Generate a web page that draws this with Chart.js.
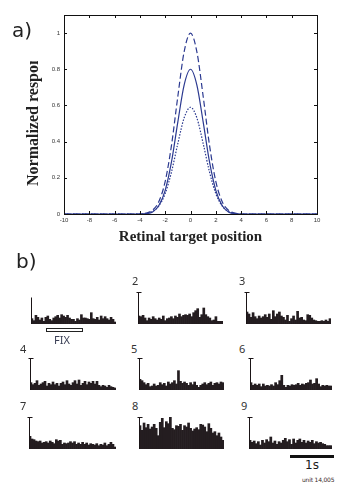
<!DOCTYPE html>
<html>
<head>
<meta charset="utf-8">
<script src="https://cdn.jsdelivr.net/npm/chart.js@4.4.1/dist/chart.umd.min.js"></script>
<style>
  body { margin: 0; background: #fff; width: 350px; height: 490px; position: relative; overflow: hidden; }
  .abs { position: absolute; white-space: nowrap; }
  .panel { font: 20px "DejaVu Sans", sans-serif; line-height: 20px; color: #222; }
  .num { font: 11px "Noto Sans", sans-serif; line-height: 11px; color: #333; }
  canvas { position: absolute; }
</style>
</head>
<body>

<canvas id="curves" width="350" height="250" style="left:0;top:0"></canvas>

<div class="abs panel" style="left:12px;top:20px">a)</div>
<div class="abs panel" style="left:16px;top:251px">b)</div>

<div class="abs num" style="left:132px;top:275px">2</div>
<div class="abs num" style="left:239px;top:275px">3</div>
<div class="abs num" style="left:20px;top:343px">4</div>
<div class="abs num" style="left:131px;top:343px">5</div>
<div class="abs num" style="left:239px;top:343px">6</div>
<div class="abs num" style="left:20px;top:400px">7</div>
<div class="abs num" style="left:132px;top:400px">8</div>
<div class="abs num" style="left:241px;top:400px">9</div>

<div class="abs" style="left:46px;top:328px;width:37px;height:4px;box-sizing:border-box;border:1px solid #222;background:#fff"></div>
<div class="abs num" style="left:54px;top:334px;color:#3a3f55">FIX</div>

<div class="abs" style="left:290px;top:455px;width:44px;height:2.5px;background:#111"></div>
<div class="abs" style="left:305px;top:459px;font:12px 'DejaVu Sans',sans-serif;line-height:12px;color:#1a1a1a">1s</div>
<div class="abs" style="left:302px;top:477px;font:6px 'DejaVu Sans',sans-serif;line-height:6px;letter-spacing:-0.2px;color:#3a2a2a">unit 14,005</div>

<canvas id="h1"></canvas><canvas id="h2"></canvas><canvas id="h3"></canvas>
<canvas id="h4"></canvas><canvas id="h5"></canvas><canvas id="h6"></canvas>
<canvas id="h7"></canvas><canvas id="h8"></canvas><canvas id="h9"></canvas>

<script>
// a) tuning curves: retinal target position vs normalized response
const targetPos = [-10, -4, -3.5, -3, -2.5, -2, -1.5, -1, -0.5, 0, 0.5, 1, 1.5, 2, 2.5, 3, 3.5, 4, 10];
const dashedResp = [0, 0, 0.005, 0.021, 0.069, 0.18, 0.381, 0.651, 0.898, 1.0, 0.898, 0.651, 0.381, 0.18, 0.069, 0.021, 0.005, 0, 0];
const solidResp  = [0, 0, 0.002, 0.011, 0.047, 0.131, 0.289, 0.509, 0.714, 0.8, 0.714, 0.509, 0.289, 0.131, 0.047, 0.011, 0.002, 0, 0];
const dottedResp = [0, 0, 0.003, 0.014, 0.045, 0.113, 0.233, 0.39, 0.532, 0.59, 0.532, 0.39, 0.233, 0.113, 0.045, 0.014, 0.003, 0, 0];

// b) PSTHs for the 9 target locations (rates, axis top = 96)
const psth1 = [16,10,26,20,12,18,8,20,24,14,10,18,22,26,18,28,24,20,26,18,14,14,8,16,12,28,18,18,16,14,34,16,14,20,12,24,16,22,16,12,20,14,6];
const psth2 = [24,22,26,18,10,18,14,22,16,12,18,14,24,10,16,18,22,16,24,20,30,22,26,28,26,30,22,34,40,46,20,28,48,28,22,18,10,12,22,8,8,8];
const psth3 = [36,30,20,34,22,16,24,18,22,28,20,30,14,40,22,30,36,24,20,12,26,8,16,24,12,38,18,20,12,10,28,26,18,12,10,8,8,10,8,12,8,16];
const psth4 = [22,16,20,28,14,18,22,26,12,20,16,24,16,20,12,20,24,16,28,18,14,22,28,18,30,14,20,26,16,24,20,26,18,26,14,10,14,12,8,14,10,8,6];
const psth5 = [32,28,22,16,20,10,12,18,12,14,22,16,20,12,24,18,22,28,18,58,26,20,24,20,14,22,16,24,14,8,14,18,22,16,20,24,14,20,22,18,24,22];
const psth6 = [22,14,18,14,18,10,18,12,14,12,16,12,22,16,28,44,14,8,14,12,16,14,16,20,14,18,16,20,22,30,18,20,34,18,10,14,12,14,12,12];
const psth7 = [38,30,28,24,22,24,18,20,22,18,24,20,16,28,24,26,14,18,16,18,22,18,22,14,18,14,20,14,18,12,16,14,12,16,10,14,12,18,10,14,20,14,6];
const psth8 = [70,56,78,64,74,60,66,74,62,40,80,92,64,82,76,96,62,58,70,68,74,56,70,66,78,62,54,60,64,58,74,72,66,52,76,62,48,52,40,48,36,26];
const psth9 = [26,20,24,16,22,12,26,18,28,22,36,18,24,14,22,18,26,32,22,28,14,30,18,26,30,20,26,18,24,20,26,16,22,18,20,16,14,10,10,10];
const scaleTop = [82, 96, 96, 96, 96, 96, 96, 96, 96];

const lineColor = '#2b3990';

function toPoints(ys) {
    return targetPos.map((x, i) => ({ x: x, y: ys[i] }));
}

// box and inward tick marks, matlab style
const boxTicks = {
    id: 'boxTicks',
    afterDraw(chart) {
        const { ctx, chartArea: a, scales } = chart;
        ctx.save();
        ctx.strokeStyle = '#111';
        ctx.lineWidth = 1;
        ctx.beginPath();
        ctx.moveTo(a.left, a.top + 0.5);
        ctx.lineTo(a.right + 0.5, a.top + 0.5);
        ctx.lineTo(a.right + 0.5, a.bottom);
        scales.x.ticks.forEach(t => {
            const px = Math.round(scales.x.getPixelForValue(t.value)) + 0.5;
            ctx.moveTo(px, a.bottom); ctx.lineTo(px, a.bottom - 3);
            ctx.moveTo(px, a.top); ctx.lineTo(px, a.top + 3);
        });
        scales.y.ticks.forEach(t => {
            const py = Math.round(scales.y.getPixelForValue(t.value)) + 0.5;
            ctx.moveTo(a.left, py); ctx.lineTo(a.left + 3, py);
            ctx.moveTo(a.right, py); ctx.lineTo(a.right - 3, py);
        });
        ctx.stroke();
        ctx.restore();
    }
};

// y title is cut off at the top in the original figure
const clippedYTitle = {
    id: 'clippedYTitle',
    afterDraw(chart) {
        const ctx = chart.ctx;
        ctx.save();
        ctx.beginPath();
        ctx.rect(0, 61, 64, 190);
        ctx.clip();
        ctx.translate(38, 186);
        ctx.rotate(-Math.PI / 2);
        ctx.font = 'bold 16px "Liberation Serif", serif';
        ctx.fillStyle = '#222';
        ctx.textAlign = 'left';
        ctx.fillText('Normalized response', 0, 0);
        ctx.restore();
    }
};

new Chart(document.getElementById('curves'), {
    type: 'line',
    data: {
        datasets: [
            { data: toPoints(dashedResp), borderColor: lineColor, borderDash: [6, 3] },
            { data: toPoints(solidResp), borderColor: lineColor },
            { data: toPoints(dottedResp), borderColor: lineColor, borderDash: [1.5, 1.5] }
        ]
    },
    options: {
        responsive: false,
        animation: false,
        layout: { padding: { left: 24, right: 33, top: 15, bottom: 4 } },
        datasets: {
            line: { borderWidth: 1.2, pointRadius: 0, cubicInterpolationMode: 'monotone' }
        },
        plugins: { legend: { display: false }, tooltip: { enabled: false } },
        scales: {
            x: {
                type: 'linear', min: -10, max: 10,
                ticks: { stepSize: 2, maxRotation: 0, padding: 3, color: '#333', font: { family: 'Liberation Sans', size: 6 } },
                grid: { display: false, drawTicks: false },
                border: { color: '#111', width: 1 },
                title: { display: true, text: 'Retinal target position', color: '#222', padding: 0,
                         font: { family: 'Liberation Serif', size: 15, weight: 'bold' } },
                afterFit: s => { s.height = 32; }
            },
            y: {
                min: 0, max: 1.1,
                ticks: { stepSize: 0.2, includeBounds: false, padding: 4, color: '#333',
                         font: { family: 'Liberation Sans', size: 6 },
                         callback: v => String(Math.round(v * 10) / 10) },
                grid: { display: false, drawTicks: false },
                border: { color: '#111', width: 1 },
                afterFit: s => { s.width = 40; }
            }
        }
    },
    plugins: [boxTicks, clippedYTitle]
});

// vertical scale line at the start of each histogram
const scaleLine = {
    id: 'scaleLine',
    afterDraw(chart) {
        const { ctx, chartArea: a, scales } = chart;
        const o = chart.options.plugins.scaleLine;
        const x = a.left + 0.5;
        const yTop = Math.round(scales.y.getPixelForValue(o.top)) + 0.5;
        ctx.save();
        ctx.strokeStyle = '#1a1416';
        ctx.lineWidth = 1;
        ctx.beginPath();
        ctx.moveTo(x, a.bottom);
        ctx.lineTo(x, yTop);
        if (o.tick) { ctx.moveTo(x - 2, yTop); ctx.lineTo(x + 3, yTop); }
        ctx.stroke();
        ctx.restore();
    }
};

const histLayout = [
    { id: 'h1', left: 28,  top: 290, width: 88 },
    { id: 'h2', left: 135, top: 290, width: 88 },
    { id: 'h3', left: 243, top: 290, width: 88 },
    { id: 'h4', left: 27,  top: 356, width: 89 },
    { id: 'h5', left: 136, top: 356, width: 88 },
    { id: 'h6', left: 247, top: 356, width: 85 },
    { id: 'h7', left: 26,  top: 415, width: 90 },
    { id: 'h8', left: 136, top: 415, width: 88 },
    { id: 'h9', left: 246, top: 415, width: 86 }
];
const allPsth = [psth1, psth2, psth3, psth4, psth5, psth6, psth7, psth8, psth9];

histLayout.forEach((p, i) => {
    const cv = document.getElementById(p.id);
    cv.width = p.width;
    cv.height = 34;
    cv.style.left = p.left + 'px';
    cv.style.top = p.top + 'px';
    const rates = allPsth[i];
    new Chart(cv, {
        type: 'bar',
        data: {
            labels: rates.map((_, k) => k),
            datasets: [{ data: rates, backgroundColor: '#241d20', borderWidth: 0,
                         barPercentage: 1, categoryPercentage: 1 }]
        },
        options: {
            responsive: false,
            animation: false,
            layout: { padding: { left: 3, top: 2, right: 0, bottom: 0 } },
            plugins: { legend: { display: false }, tooltip: { enabled: false },
                       scaleLine: { top: scaleTop[i], tick: i > 0 } },
            scales: {
                x: { display: false },
                y: { display: false, min: 0, max: 96 }
            }
        },
        plugins: [scaleLine]
    });
});
</script>
</body>
</html>
